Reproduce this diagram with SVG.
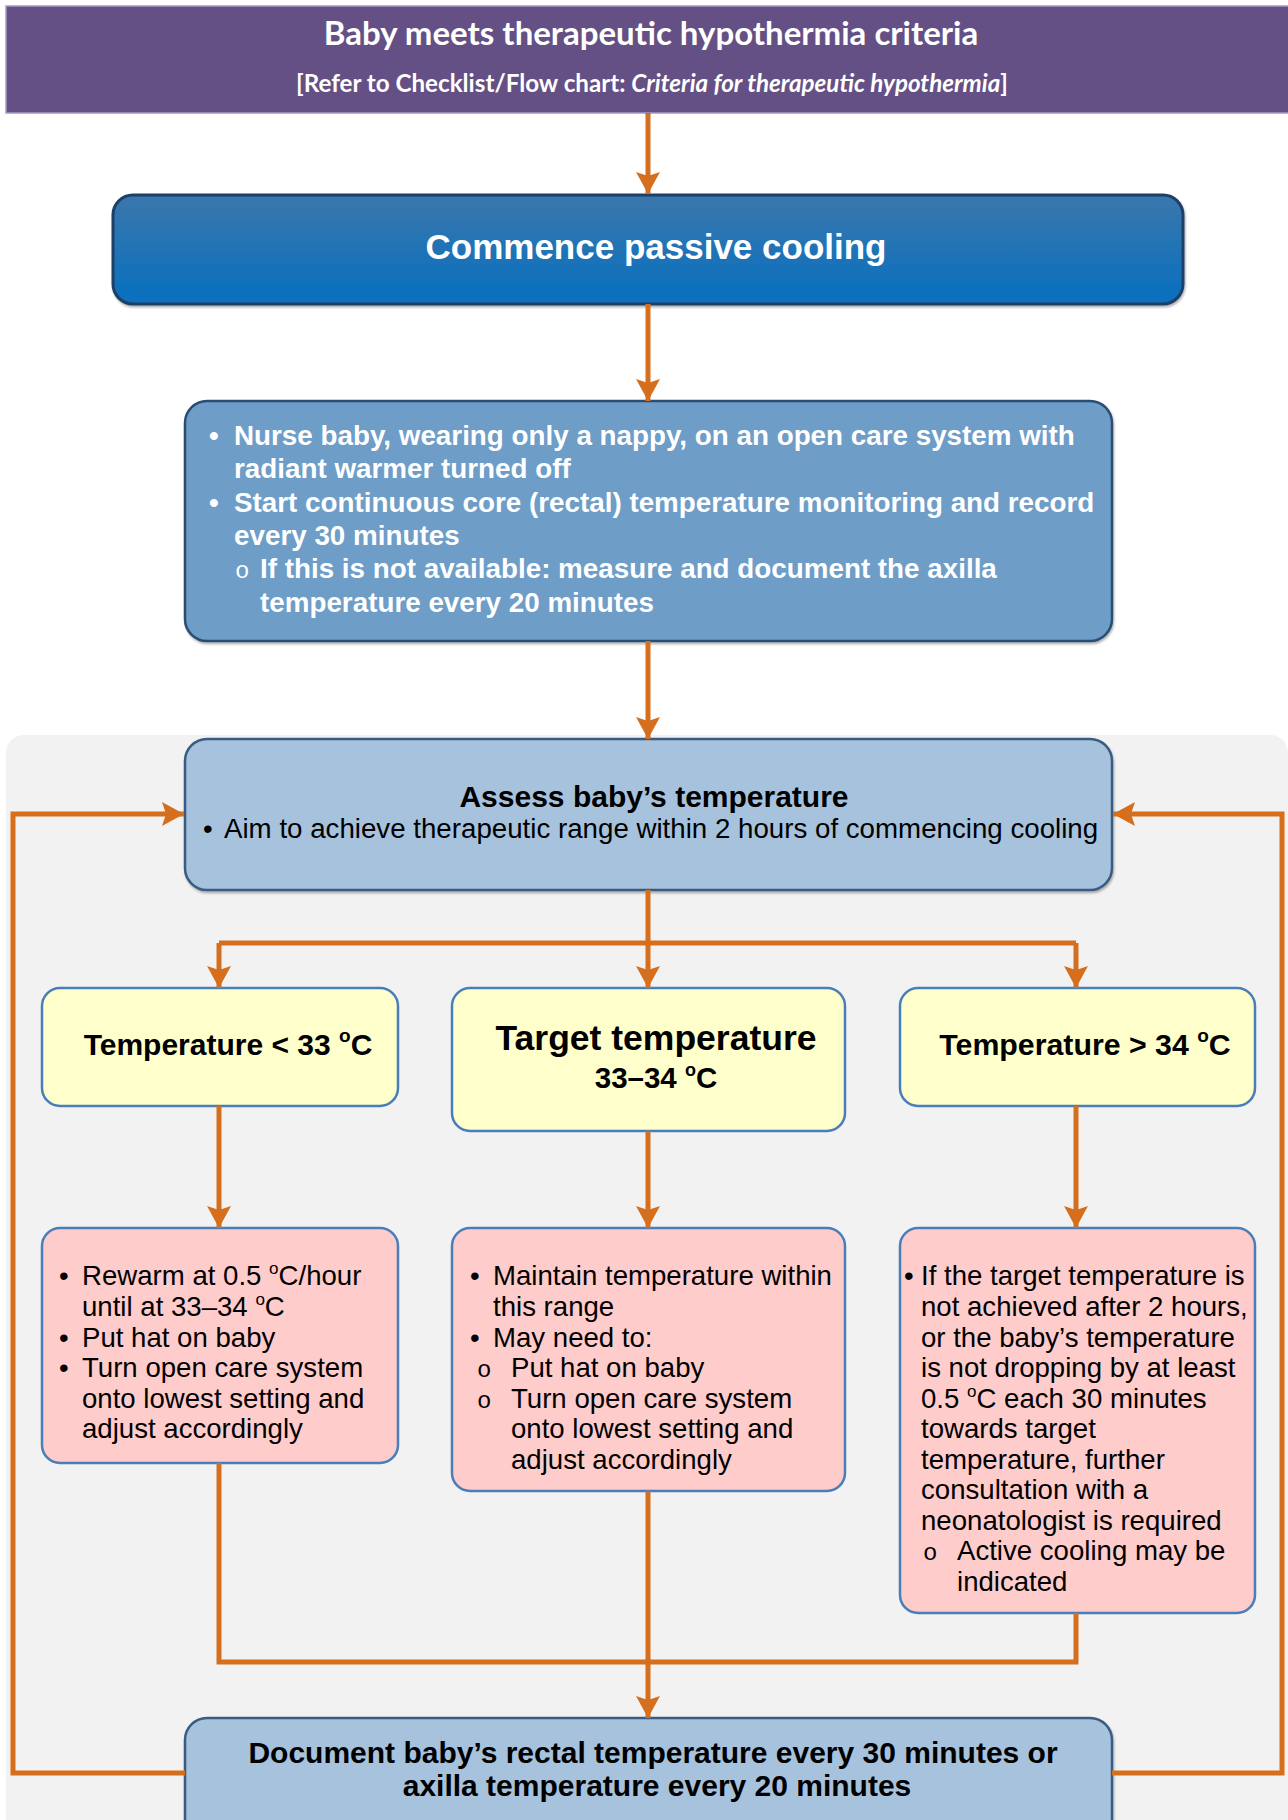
<svg xmlns="http://www.w3.org/2000/svg" width="1288" height="1820" viewBox="0 0 1288 1820">
<defs>
  <linearGradient id="gBlue" x1="0" y1="0" x2="0" y2="1">
    <stop offset="0" stop-color="#3B77AC"/>
    <stop offset="1" stop-color="#076FBF"/>
  </linearGradient>
  <filter id="sh" x="-5%" y="-5%" width="110%" height="115%">
    <feDropShadow dx="1" dy="2" stdDeviation="1" flood-color="#000" flood-opacity="0.3"/>
  </filter>
  <marker id="ah" viewBox="0 0 22 24" refX="22" refY="12" markerWidth="22" markerHeight="24" markerUnits="userSpaceOnUse" orient="auto">
    <path d="M0,0 L22,12 L0,24 L4,12 z" fill="#D66F1D"/>
  </marker>
  <style>
    .conn { fill:none; stroke:#D66F1D; stroke-width:5; }
    .arr { marker-end:url(#ah); }
    .wb { fill:#fff; font-family:"Liberation Sans",Arial,sans-serif; font-weight:bold; }
    .hd { fill:#fff; font-family:Lato,"Liberation Sans",Arial,sans-serif; font-weight:bold; }
    .kb { fill:#000; font-family:"Liberation Sans",Arial,sans-serif; font-weight:bold; }
    .kr { fill:#000; font-family:"Liberation Sans",Arial,sans-serif; }
    .sub { font-family:"Liberation Mono","Courier New",monospace; font-weight:normal; }
    .temp { fill:#FFFFCC; stroke:#4A7EBB; stroke-width:2.5; }
    .act { fill:#FFCCCC; stroke:#4A7EBB; stroke-width:2.5; }
    .lb { fill:#A6C2DD; stroke:#3B5C82; stroke-width:2.5; }
  </style>
</defs>

<rect x="0" y="0" width="1288" height="1820" fill="#fff"/>

<!-- background panel -->
<rect x="6" y="735" width="1282" height="1110" rx="18" fill="#F2F2F2"/>

<!-- header -->
<g id="header">
  <rect x="6" y="6" width="1284" height="107" fill="#645084" stroke="#A899C2" stroke-width="1.5"/>
  <text class="hd" x="651" y="45" font-size="33" text-anchor="middle">Baby meets therapeutic hypothermia criteria</text>
  <text class="hd" x="652" y="92" font-size="24.2" text-anchor="middle">[Refer to Checklist/Flow chart: <tspan font-style="italic">Criteria for therapeutic hypothermia</tspan>]</text>
</g>

<g id="commence">
  <rect x="113" y="195" width="1070" height="109" rx="20" fill="url(#gBlue)" stroke="#1E3F66" stroke-width="3" filter="url(#sh)"/>
  <text class="wb" x="656" y="259" font-size="35" text-anchor="middle">Commence passive cooling</text>
</g>

<g id="nurse">
  <rect x="185" y="401" width="927" height="240" rx="22" fill="#6E9DC8" stroke="#2C4D72" stroke-width="2.5" filter="url(#sh)"/>
  <g class="wb" font-size="27.8">
    <text x="209" y="445">•</text>
    <text x="234" y="445">Nurse baby, wearing only a nappy, on an open care system with</text>
    <text x="234" y="478">radiant warmer turned off</text>
    <text x="209" y="512">•</text>
    <text x="234" y="512">Start continuous core (rectal) temperature monitoring and record</text>
    <text x="234" y="545">every 30 minutes</text>
    <text class="sub" x="235" y="578" font-size="24">o</text>
    <text x="260" y="578">If this is not available: measure and document the axilla</text>
    <text x="260" y="612">temperature every 20 minutes</text>
  </g>
</g>

<g id="assess">
  <rect class="lb" x="185" y="739" width="927" height="151" rx="22" filter="url(#sh)"/>
  <text class="kb" x="654" y="807" font-size="30" text-anchor="middle">Assess baby’s temperature</text>
  <text class="kr" x="203" y="838" font-size="27.7">•</text>
  <text class="kr" x="224" y="838" font-size="27.7">Aim to achieve therapeutic range within 2 hours of commencing cooling</text>
</g>

<g id="low">
  <rect class="temp" x="42" y="988" width="356" height="118" rx="18"/>
  <text class="kb" x="228" y="1055" font-size="30" text-anchor="middle">Temperature &lt; 33 <tspan font-size="19" dy="-13">o</tspan><tspan dy="13">C</tspan></text>
</g>

<g id="target">
  <rect class="temp" x="452" y="988" width="393" height="143" rx="18"/>
  <text class="kb" x="656" y="1050" font-size="35.5" text-anchor="middle">Target temperature</text>
  <text class="kb" x="656" y="1088" font-size="29.5" text-anchor="middle">33–34 <tspan font-size="18" dy="-12">o</tspan><tspan dy="12">C</tspan></text>
</g>

<g id="high">
  <rect class="temp" x="900" y="988" width="355" height="118" rx="18"/>
  <text class="kb" x="1085" y="1055" font-size="30.3" text-anchor="middle">Temperature &gt; 34 <tspan font-size="19" dy="-13">o</tspan><tspan dy="13">C</tspan></text>
</g>

<g id="act-low">
  <rect class="act" x="42" y="1228" width="356" height="235" rx="18"/>
  <g class="kr" font-size="27.6">
    <text x="59" y="1285">•</text>
    <text x="82" y="1285">Rewarm at 0.5 <tspan font-size="17" dy="-11">o</tspan><tspan dy="11">C/hour</tspan></text>
    <text x="82" y="1316">until at 33–34 <tspan font-size="17" dy="-11">o</tspan><tspan dy="11">C</tspan></text>
    <text x="59" y="1347">•</text>
    <text x="82" y="1347">Put hat on baby</text>
    <text x="59" y="1377">•</text>
    <text x="82" y="1377">Turn open care system</text>
    <text x="82" y="1408">onto lowest setting and</text>
    <text x="82" y="1438">adjust accordingly</text>
  </g>
</g>

<g id="act-target">
  <rect class="act" x="452" y="1228" width="393" height="263" rx="18"/>
  <g class="kr" font-size="27.6">
    <text x="470" y="1285">•</text>
    <text x="493" y="1285">Maintain temperature within</text>
    <text x="493" y="1316">this range</text>
    <text x="470" y="1347">•</text>
    <text x="493" y="1347">May need to:</text>
    <text class="sub" x="477" y="1377" font-size="24">o</text>
    <text x="511" y="1377">Put hat on baby</text>
    <text class="sub" x="477" y="1408" font-size="24">o</text>
    <text x="511" y="1408">Turn open care system</text>
    <text x="511" y="1438">onto lowest setting and</text>
    <text x="511" y="1469">adjust accordingly</text>
  </g>
</g>

<g id="act-high">
  <rect class="act" x="900" y="1228" width="355" height="385" rx="18"/>
  <g class="kr" font-size="27.6">
    <text x="904" y="1285">•</text>
    <text x="921" y="1285">If the target temperature is</text>
    <text x="921" y="1316">not achieved after 2 hours,</text>
    <text x="921" y="1347">or the baby’s temperature</text>
    <text x="921" y="1377">is not dropping by at least</text>
    <text x="921" y="1408">0.5 <tspan font-size="17" dy="-11">o</tspan><tspan dy="11">C each 30 minutes</tspan></text>
    <text x="921" y="1438">towards target</text>
    <text x="921" y="1469">temperature, further</text>
    <text x="921" y="1499">consultation with a</text>
    <text x="921" y="1530">neonatologist is required</text>
    <text class="sub" x="923" y="1560" font-size="24">o</text>
    <text x="957" y="1560">Active cooling may be</text>
    <text x="957" y="1591">indicated</text>
  </g>
</g>

<g id="document">
  <rect class="lb" x="185" y="1718" width="927" height="140" rx="22" filter="url(#sh)"/>
  <text class="kb" x="653" y="1763" font-size="30" text-anchor="middle">Document baby’s rectal temperature every 30 minutes or</text>
  <text class="kb" x="657" y="1796" font-size="30" text-anchor="middle">axilla temperature every 20 minutes</text>
</g>

<g id="connectors">
  <path class="conn arr" d="M648,113 V194"/>
  <path class="conn arr" d="M648,304 V401"/>
  <path class="conn arr" d="M648,641 V739"/>
  <path class="conn arr" d="M648,890 V988"/>
  <path class="conn" d="M219,943 H1076"/>
  <path class="conn arr" d="M219,943 V988"/>
  <path class="conn arr" d="M1076,943 V988"/>
  <path class="conn arr" d="M219,1106 V1228"/>
  <path class="conn arr" d="M648,1131 V1228"/>
  <path class="conn arr" d="M1076,1106 V1228"/>
  <path class="conn" d="M219,1463 V1662 H1076 V1613"/>
  <path class="conn arr" d="M648,1491 V1718"/>
  <path class="conn arr" d="M185,1773 H13 V814 H184"/>
  <path class="conn arr" d="M1112,1773 H1282 V814 H1113"/>
</g>
</svg>
